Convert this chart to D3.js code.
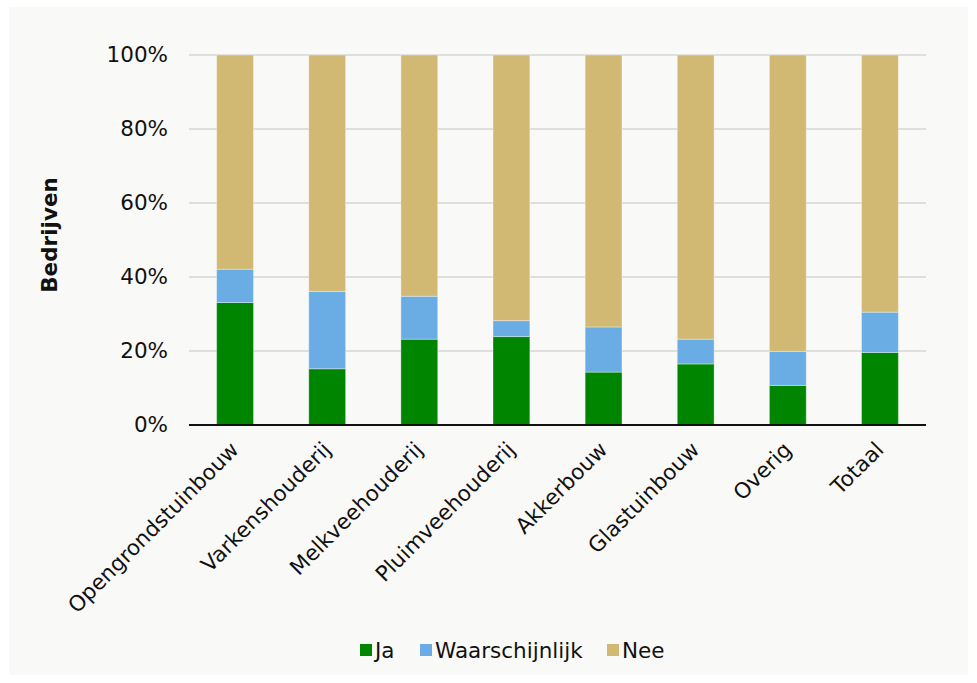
<!DOCTYPE html>
<html>
<head>
<meta charset="utf-8">
<script src="https://cdn.jsdelivr.net/npm/d3@7"></script>
<style>
  body { margin: 0; background: #ffffff; }
  text { font-family: "DejaVu Sans", Verdana, sans-serif; fill: #111; }
</style>
</head>
<body>
<script>
// data (percent of companies)
var categories = ["Opengrondstuinbouw", "Varkenshouderij", "Melkveehouderij", "Pluimveehouderij",
                  "Akkerbouw", "Glastuinbouw", "Overig", "Totaal"];
var ja = [33.1, 15.2, 23.2, 23.9, 14.3, 16.5, 10.7, 19.6];
var waarschijnlijk = [9.0, 20.9, 11.6, 4.3, 12.2, 6.7, 9.2, 10.9];
var nee = ja.map(function(d, i) { return 100 - d - waarschijnlijk[i]; });
var seriesNames = ["Ja", "Waarschijnlijk", "Nee"];
var yTicks = [0, 20, 40, 60, 80, 100];

var width = 977, height = 683;
var margin = {top: 55, right: 51, bottom: 258, left: 189};
var fontSize = "21.5px";

var svg = d3.select("body").append("svg")
    .attr("width", width)
    .attr("height", height);

// light panel
svg.append("rect")
    .attr("x", 9).attr("y", 7)
    .attr("width", 959).attr("height", 668)
    .attr("fill", "#f9f9f7");

var x = d3.scaleBand()
    .domain(categories)
    .range([margin.left, width - margin.right])
    .paddingInner(0.6)
    .paddingOuter(0.3);

var y = d3.scaleLinear()
    .domain([0, 100])
    .range([height - margin.bottom, margin.top]);

var color = d3.scaleOrdinal()
    .domain(seriesNames)
    .range(["#008500", "#6aade4", "#d1b974"]);

// gridlines
svg.append("g")
  .selectAll("line")
  .data(yTicks.filter(function(d) { return d > 0; }))
  .enter().append("line")
    .attr("x1", margin.left)
    .attr("x2", width - margin.right)
    .attr("y1", function(d) { return y(d); })
    .attr("y2", function(d) { return y(d); })
    .attr("stroke", "#c4c4c0")
    .attr("stroke-width", 1.2);

// y axis labels
var yAxis = d3.axisLeft(y)
    .tickValues(yTicks)
    .tickFormat(function(d) { return d + "%"; })
    .tickSize(0)
    .tickPadding(21);

svg.append("g")
    .attr("transform", "translate(" + margin.left + ",0)")
    .call(yAxis)
    .call(function(g) { g.select(".domain").remove(); })
    .selectAll("text")
    .style("font-size", fontSize)
    .attr("fill", "#111");

// stacked bars
var rows = categories.map(function(c, i) {
  return {cat: c, Ja: ja[i], Waarschijnlijk: waarschijnlijk[i], Nee: nee[i]};
});
var stack = d3.stack().keys(seriesNames)(rows);

svg.append("g")
  .selectAll("g")
  .data(stack)
  .enter().append("g")
    .attr("fill", function(d) { return color(d.key); })
  .selectAll("rect")
  .data(function(d) { return d; })
  .enter().append("rect")
    .attr("x", function(d) { return x(d.data.cat); })
    .attr("width", x.bandwidth())
    .attr("y", function(d) { return y(d[1]); })
    .attr("height", function(d) { return y(d[0]) - y(d[1]); })
    .attr("stroke", "rgba(255,255,255,0.35)")
    .attr("stroke-width", 1);

// baseline
svg.append("line")
    .attr("x1", margin.left)
    .attr("x2", width - margin.right)
    .attr("y1", y(0))
    .attr("y2", y(0))
    .attr("stroke", "#111")
    .attr("stroke-width", 2);

// x labels rotated
var xAxis = d3.axisBottom(x).tickSize(0).tickPadding(0);
svg.append("g")
    .attr("transform", "translate(0," + y(0) + ")")
    .call(xAxis)
    .call(function(g) { g.select(".domain").remove(); })
    .selectAll("text")
    .style("font-size", fontSize)
    .attr("fill", "#111")
    .attr("text-anchor", "end")
    .attr("dy", null)
    .attr("y", 0)
    .attr("transform", "translate(5,26) rotate(-45)");

// y title
svg.append("text")
    .attr("transform", "translate(57,235) rotate(-90)")
    .attr("text-anchor", "middle")
    .style("font-size", fontSize)
    .style("font-weight", "bold")
    .text("Bedrijven");

// legend
var legendX = [360, 420, 607];
var legend = svg.append("g")
  .selectAll("g")
  .data(seriesNames)
  .enter().append("g")
    .attr("transform", function(d, i) { return "translate(" + legendX[i] + ",644)"; });

legend.append("rect")
    .attr("width", 12).attr("height", 12)
    .attr("fill", function(d) { return color(d); });

legend.append("text")
    .attr("x", 15)
    .attr("y", 14)
    .style("font-size", fontSize)
    .text(function(d) { return d; });
</script>
</body>
</html>
